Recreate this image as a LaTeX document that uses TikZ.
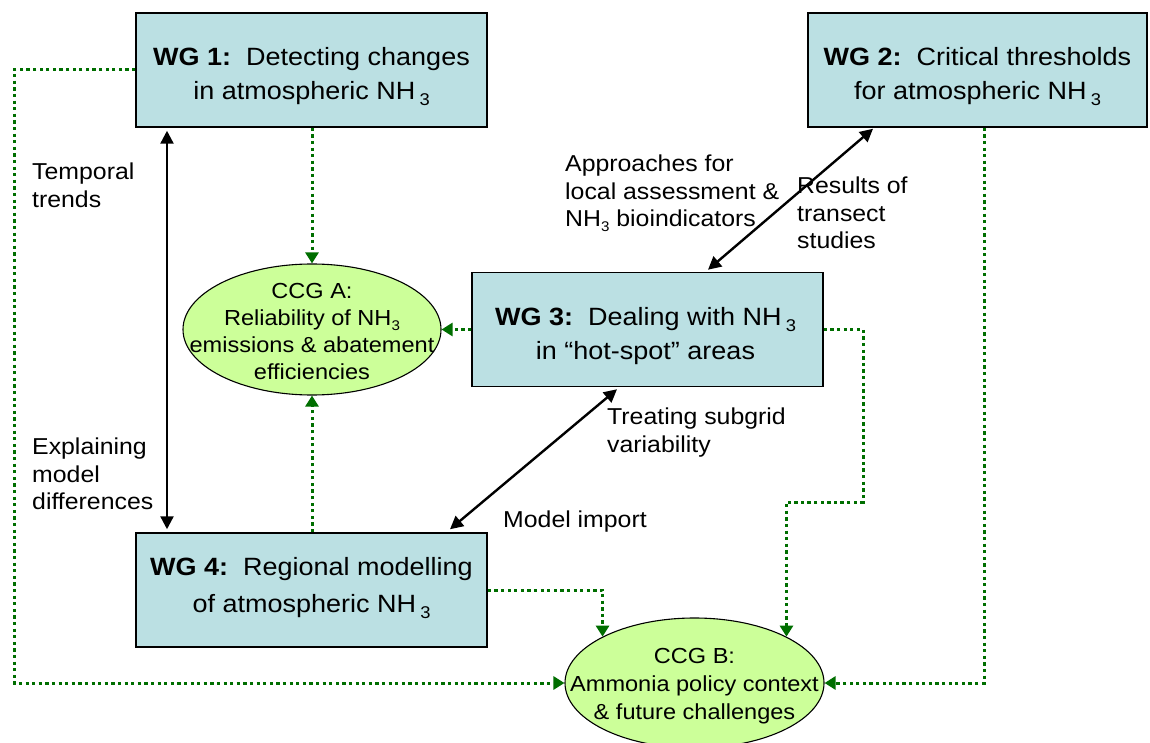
\documentclass[tikz,border=0pt]{standalone}
\usepackage{fontspec}
\setmainfont{Liberation Sans}[FakeStretch=1.08]
\usetikzlibrary{arrows.meta,shapes.geometric}
\definecolor{boxfill}{RGB}{187,224,227}
\definecolor{ellfill}{RGB}{204,255,153}
\definecolor{dotgreen}{RGB}{0,110,0}
\newcommand{\boxsub}[1]{\,\raisebox{-0.45ex}{\fontsize{17}{17}\selectfont #1}}
\newcommand{\smallsub}[1]{\raisebox{-0.4ex}{\fontsize{14}{14}\selectfont #1}}
\begin{document}
\begin{tikzpicture}[x=1pt,y=-1pt,
 wg/.style={draw=black, line width=1.5pt, fill=boxfill, inner sep=0pt, minimum width=351pt, minimum height=114pt},
 wgtext/.style={anchor=north, align=center, inner sep=0pt, font=\fontsize{25}{34}\selectfont},
 ccg/.style={ellipse, draw=black, line width=1.1pt, fill=ellfill, inner sep=0pt, minimum width=258pt, minimum height=131pt},
 ccgtext/.style={anchor=north, align=center, inner sep=0pt, font=\fontsize{21.8}{27}\selectfont},
 lab/.style={anchor=north west, align=left, inner sep=0pt, font=\fontsize{23}{27.5}\selectfont},
 dotline/.style={draw=dotgreen, line width=3pt, dash pattern=on 3.3pt off 3.3pt, -{Triangle[length=11pt,width=13pt,fill=dotgreen]}},
 dblarrow/.style={draw=black, line width=2.4pt, {Triangle[length=13pt,width=13pt]}-{Triangle[length=13pt,width=13pt]}}
]
\useasboundingbox (0,0) rectangle (1150,743);

% boxes
\node[wg] (wg1) at (311.5,70) {};
\node[wg, minimum width=339pt] (wg2) at (977.5,70) {};
\node[wg] (wg3) at (647.5,329.5) {};
\node[wg] (wg4) at (311.5,590) {};

% ellipses
\node[ccg] (ccga) at (312,329.5) {};
\node[ccg, minimum width=259pt, minimum height=130pt] (ccgb) at (694.5,683) {};

% box texts
\node[wgtext] (wg1t) at (311.5,47.1) {\textbf{WG 1:}\ \ Detecting changes\\in atmospheric NH\boxsub{3}};
\node[wgtext] (wg2t) at (977.5,47.1) {\textbf{WG 2:}\ \ Critical thresholds\\for atmospheric NH\boxsub{3}};
\node[wgtext] (wg3t) at (645.5,307.1) {\textbf{WG 3:}\ \ Dealing with NH\boxsub{3}\\in “hot-spot” areas};
\node[wgtext, font=\fontsize{25}{37}\selectfont] (wg4t) at (311.5,557.1) {\textbf{WG 4:}\ \ Regional modelling\\of atmospheric NH\boxsub{3}};

% ellipse texts
\node[ccgtext] (ccgat) at (312,283) {CCG A:\\Reliability of NH\smallsub{3}\\emissions \& abatement\\efficiencies};
\node[ccgtext, font=\fontsize{21.8}{28}\selectfont] (ccgbt) at (694.5,648) {CCG B:\\Ammonia policy context\\\& future challenges};

% labels
\node[lab] (l1) at (32,163) {Temporal\\trends};
\node[lab] (l2) at (32,438) {Explaining\\model\\differences};
\node[lab] (l3) at (565,155) {Approaches for\\local assessment \&\\NH\smallsub{3} bioindicators};
\node[lab] (l4) at (797,177) {Results of\\transect\\studies};
\node[lab] (l5) at (607,408) {Treating subgrid\\variability};
\node[lab] (l6) at (503,511) {Model import};

% black double arrows
\draw[dblarrow] ([xshift=-144.5pt,yshift=-3pt]wg1.south) -- ([xshift=-144.5pt,yshift=3pt]wg4.north);
\draw[dblarrow] ([xshift=-104.5pt,yshift=-1pt]wg2.south) -- ([xshift=60.5pt,yshift=2pt]wg3.north);
\draw[dblarrow] ([xshift=-30.5pt,yshift=-2pt]wg3.south) -- ([xshift=138.5pt,yshift=3pt]wg4.north);

% green dotted connectors
\coordinate (c1) at (14,683);
\draw[dotline] (wg1.west) -| (c1) -- (ccgb.west);
\draw[dotline] (ccga.north |- wg1.south) -- (ccga.north);
\draw[dotline] (ccga.south |- wg4.north) -- (ccga.south);
\draw[dotline] (wg3.west) -- (ccga.east);
\coordinate (c2) at (863,502);
\draw[dotline] (wg3.east) -| (c2) -| (ccgb.north east);
\draw[dotline] (wg4.east) -| (ccgb.north west);
\draw[dotline] ([xshift=6.5pt]wg2.south) |- (ccgb.east);
\end{tikzpicture}
\end{document}
